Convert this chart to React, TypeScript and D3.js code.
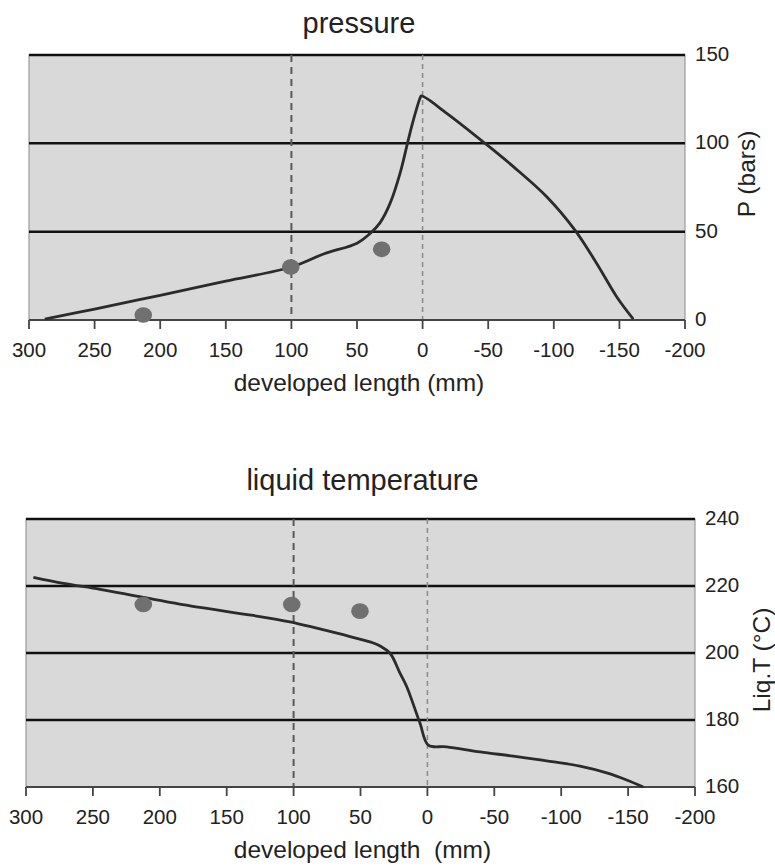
import React from "react";
import * as d3 from "d3";

// ---- data ----
const xTicks = [300, 250, 200, 150, 100, 50, 0, -50, -100, -150, -200];

const pressureX = [288, 250, 200, 150, 100, 75, 50, 40, 32.5, 24.8, 17.2, 10.9, 7.1, 2, 1, -18.4, -47.6, -69.2, -94.6, -116, -132.7, -147.9, -160.6];
const pressureY = [0.5, 6.2, 14, 22, 30, 37.5, 43.5, 49, 55, 66, 83, 102, 113, 125.5, 126.8, 117, 100, 86.8, 69.8, 51, 32, 13.2, 0.5];
const pressureDotsX = [212.9, 100.5, 31.2];
const pressureDotsY = [2.8, 30, 40];
const pressureTicks = [0, 50, 100, 150];

const tempX = [294.5, 272, 244.7, 212.3, 170, 130, 102.7, 82.7, 57.8, 40.4, 35, 28, 20.5, 15.5, 5.5, -0.7, -14.4, -39.3, -64.2, -89.1, -114, -134, -148.9, -161.3];
const tempY = [222.6, 220.8, 219, 216.6, 213.6, 211.2, 209.3, 207.4, 204.9, 203, 202, 200, 194, 190, 179, 172.5, 172, 170.5, 169.2, 167.8, 166.2, 164.2, 162.1, 160];
const tempDotsX = [212.3, 101.4, 50.4];
const tempDotsY = [214.5, 214.5, 212.5];
const tempTicks = [160, 180, 200, 220, 240];

const FONT = "'Liberation Sans', Arial, sans-serif";

type ChartProps = {
  title: string;
  yLabel: string;
  xLabel: string;
  lineX: number[];
  lineY: number[];
  dotsX: number[];
  dotsY: number[];
  yTicks: number[];
  left: number;
  right: number;
  top: number;
  bottom: number;
  titleY: number;
  yLabelX: number;
  yLabelY: number;
};

function Chart(p: ChartProps) {
  const x = d3.scaleLinear().domain([300, -200]).range([p.left, p.right]);
  const yMin = p.yTicks[0];
  const yMax = p.yTicks[p.yTicks.length - 1];
  const y = d3.scaleLinear().domain([yMin, yMax]).range([p.bottom, p.top]);
  const pts: [number, number][] = p.lineX.map((v, i) => [v, p.lineY[i]]);
  const line = d3
    .line<[number, number]>()
    .x((d) => x(d[0]))
    .y((d) => y(d[1]))
    .curve(d3.curveCatmullRom.alpha(0.5));
  const midX = (p.left + p.right) / 2;
  return (
    <g>
      <text x={midX + 2} y={p.titleY} fontSize={29} textAnchor="middle" fill="#222" fontFamily={FONT}>
        {p.title}
      </text>
      <rect x={p.left} y={p.top} width={p.right - p.left} height={p.bottom - p.top} fill="#d9d9d9" stroke="#8a8a8a" strokeWidth={1} />
      {/* horizontal gridlines */}
      {p.yTicks.slice(1).map((t) => (
        <line key={t} x1={p.left} x2={p.right} y1={y(t)} y2={y(t)} stroke="#111" strokeWidth={2.5} />
      ))}
      {/* vertical dashed references */}
      <line x1={x(100)} x2={x(100)} y1={p.top} y2={p.bottom} stroke="#5a5a5a" strokeWidth={2} strokeDasharray="7,5" />
      <line x1={x(0)} x2={x(0)} y1={p.top} y2={p.bottom} stroke="#8a8a8a" strokeWidth={1.5} strokeDasharray="5,4" />
      {/* bottom axis */}
      <line x1={p.left} x2={p.right} y1={p.bottom} y2={p.bottom} stroke="#444" strokeWidth={1.8} />
      {xTicks.map((t) => (
        <g key={t}>
          <line x1={x(t)} x2={x(t)} y1={p.bottom} y2={p.bottom + 9} stroke="#444" strokeWidth={1.8} />
          <text x={x(t)} y={p.bottom + 37} fontSize={20.5} textAnchor="middle" fill="#222" fontFamily={FONT}>
            {t}
          </text>
        </g>
      ))}
      {/* right axis labels */}
      {p.yTicks.map((t) => (
        <text key={t} x={p.right + 10} y={y(t) + 6} fontSize={20.5} fill="#222" fontFamily={FONT}>
          {t}
        </text>
      ))}
      <text
        transform={`translate(${p.yLabelX},${p.yLabelY}) rotate(-90)`}
        fontSize={24.5}
        textAnchor="middle"
        fill="#222"
        fontFamily={FONT}
      >
        {p.yLabel}
      </text>
      <text x={midX + 2} y={p.bottom + 71} fontSize={24.5} textAnchor="middle" fill="#222" fontFamily={FONT} style={{ whiteSpace: "pre" }}>
        {p.xLabel}
      </text>
      {/* curve */}
      <path d={line(pts) || ""} fill="none" stroke="#2b2b2b" strokeWidth={2.8} strokeLinejoin="round" />
      {/* dots */}
      {p.dotsX.map((v, i) => (
        <ellipse key={i} cx={x(v)} cy={y(p.dotsY[i])} rx={8.8} ry={7.8} fill="#707070" />
      ))}
    </g>
  );
}

export default function App() {
  return (
    <svg width={775} height={866} style={{ position: "absolute", left: 0, top: 0, background: "#fff" }}>
      <Chart
        title="pressure"
        yLabel="P (bars)"
        xLabel="developed length (mm)"
        lineX={pressureX}
        lineY={pressureY}
        dotsX={pressureDotsX}
        dotsY={pressureDotsY}
        yTicks={pressureTicks}
        left={29}
        right={685}
        top={55}
        bottom={320}
        titleY={33}
        yLabelX={755}
        yLabelY={174}
      />
      <Chart
        title="liquid temperature"
        yLabel="Liq.T (°C)"
        xLabel="developed length  (mm)"
        lineX={tempX}
        lineY={tempY}
        dotsX={tempDotsX}
        dotsY={tempDotsY}
        yTicks={tempTicks}
        left={26}
        right={695}
        top={519}
        bottom={787}
        titleY={490}
        yLabelX={770}
        yLabelY={660}
      />
    </svg>
  );
}
